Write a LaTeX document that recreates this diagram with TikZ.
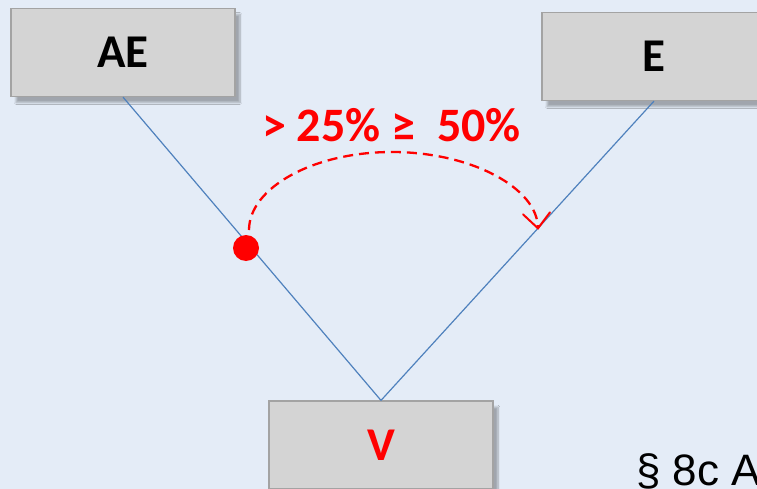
\documentclass[tikz,border=0pt]{standalone}
\usepackage{fontspec}
\setmainfont{Carlito}
\newfontfamily\arialf{Liberation Sans}
\usetikzlibrary{arrows.meta,shadows.blur,calc}
\definecolor{bgc}{HTML}{E4ECF7}
\definecolor{boxc}{HTML}{D4D4D4}
\definecolor{boxd}{HTML}{A3A3A3}
\definecolor{linec}{HTML}{4F81BD}
\definecolor{redc}{HTML}{FF0000}
\tikzset{
  slidebox/.style={draw=boxd, line width=1.2pt, fill=boxc, minimum width=224pt, minimum height=88pt,
    inner sep=0pt, font=\fontsize{47}{50}\selectfont\bfseries,
    blur shadow={shadow xshift=5pt, shadow yshift=-6pt, shadow opacity=30, shadow blur steps=8}},
  link/.style={draw=linec, line width=1.2pt},
  arcline/.style={draw=redc, line width=2.3pt, dash pattern=on 10pt off 6pt},
  arctip/.style={draw=redc, line width=2pt, line cap=round, line join=miter},
  redlabel/.style={text=redc, font=\fontsize{48}{50}\selectfont\bfseries, inner sep=0pt},
}
\begin{document}
\begin{tikzpicture}[x=1pt,y=-1pt]
\useasboundingbox (0,0) rectangle (757,489);
\clip (0,0) rectangle (757,489);
\fill[bgc] (0,0) rectangle (757,489);
\node[slidebox] (AE) at (123,52.5) {AE};
\node[slidebox] (E) at (654,56.5) {E};
\node[slidebox, text=redc] (V) at (381,445) {V};
\draw[link] (AE.south) -- (V.north);
\draw[link] (V.north) -- (E.south) coordinate[pos=0.575] (arcend);
\fill[redc] (246,248) circle (13) coordinate (dot);
\coordinate (arcstart) at (249,230);
\draw[arcline] (arcstart) .. controls (249,188) and (313,152) .. (392,152)
  .. controls (471,152) and (arcend |- 0,188) .. (arcend);
\draw[arctip] ($(arcend)+(-15,-14)$) -- (arcend) -- ($(arcend)+(12,-16)$);
\node[redlabel, anchor=base] (pct) at (391.5,142) {> 25\% ≥~ 50\%};
\node[anchor=base west, inner sep=0pt, font=\arialf\fontsize{44}{48}\selectfont] (para) at (636,485) {§ 8c A};
\end{tikzpicture}
\end{document}
